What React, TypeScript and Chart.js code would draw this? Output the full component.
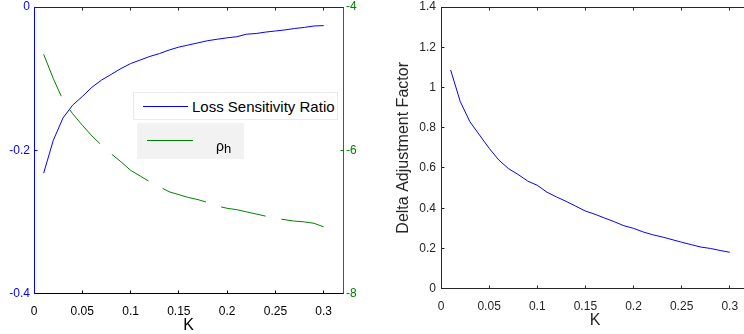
import React, { useEffect, useRef } from 'react';
import { Chart, registerables } from 'chart.js';

Chart.register(...registerables);

const kValues = [0.01, 0.02, 0.03, 0.04, 0.05, 0.06, 0.07, 0.08, 0.09, 0.1, 0.11, 0.12, 0.13, 0.14, 0.15, 0.16, 0.17, 0.18, 0.19, 0.2, 0.21, 0.22, 0.23, 0.24, 0.25, 0.26, 0.27, 0.28, 0.29, 0.3];
const lossSensitivityRatio = [-0.232, -0.186, -0.155, -0.137, -0.125, -0.112, -0.102, -0.094, -0.086, -0.079, -0.074, -0.069, -0.065, -0.06, -0.056, -0.053, -0.05, -0.047, -0.045, -0.043, -0.0415, -0.038, -0.037, -0.035, -0.0335, -0.032, -0.03, -0.0285, -0.0265, -0.026];
const rhoH = [-4.66, -5.0, -5.3, -5.49, -5.65, -5.8, -5.93, -6.05, -6.16, -6.28, -6.36, -6.44, -6.51, -6.58, -6.62, -6.66, -6.69, -6.73, -6.78, -6.81, -6.83, -6.86, -6.89, -6.92, -6.95, -6.97, -6.99, -7.0, -7.02, -7.07];
const deltaAdjustmentFactor = [1.087, 0.93, 0.83, 0.764, 0.698, 0.64, 0.597, 0.568, 0.535, 0.514, 0.48, 0.456, 0.434, 0.41, 0.386, 0.37, 0.351, 0.333, 0.313, 0.3, 0.282, 0.268, 0.257, 0.244, 0.231, 0.219, 0.207, 0.2, 0.19, 0.181];

const xTickValues = [0, 0.05, 0.1, 0.15, 0.2, 0.25, 0.3];
const lossTickValues = [-0.4, -0.2, 0];
const rhoTickValues = [-8, -6, -4];
const deltaTickValues = [0, 0.2, 0.4, 0.6, 0.8, 1, 1.2, 1.4];

const FONT = "'Liberation Sans', Arial, Helvetica, sans-serif";
const BLUE = '#0000ff';
const GREEN = '#008000';

const fmt = (v: number) => String(+v.toFixed(2));
const setTicks = (vals: number[]) => (scale: any) => {
  scale.ticks = vals.map((v) => ({ value: v }));
};
const fixSize = (prop: 'width' | 'height', size: number) => (s: any) => {
  s[prop] = size;
  s.paddingTop = 0;
  s.paddingBottom = 0;
  s.paddingLeft = 0;
  s.paddingRight = 0;
};

const crisp = (v: number) => Math.floor(v) + 0.5;

const axesPlugin = {
  id: 'matlabAxes',
  afterDatasetsDraw(chart: any, _args: any, opts: any) {
    const { ctx, chartArea } = chart;
    const left = crisp(chartArea.left);
    const right = crisp(chartArea.right);
    const top = crisp(chartArea.top);
    const bottom = crisp(chartArea.bottom);
    const tl = 3;
    ctx.save();
    ctx.lineWidth = 1;
    const line = (x1: number, y1: number, x2: number, y2: number, color: string) => {
      ctx.strokeStyle = color;
      ctx.beginPath();
      ctx.moveTo(x1, y1);
      ctx.lineTo(x2, y2);
      ctx.stroke();
    };
    const xs = chart.scales.x;
    for (const t of xs.ticks) {
      const px = crisp(xs.getPixelForValue(t.value));
      line(px, bottom, px, bottom - tl, opts.bottomColor);
      line(px, top, px, top + tl, opts.topColor);
    }
    for (const ax of opts.yAxes) {
      const s = chart.scales[ax.id];
      for (const t of s.ticks) {
        const py = crisp(s.getPixelForValue(t.value));
        if (ax.left) line(left, py, left + tl, py, ax.color);
        if (ax.right) line(right, py, right - tl, py, ax.color);
      }
    }
    line(left - 0.5, top, right + 0.5, top, opts.topColor);
    line(left - 0.5, bottom, right + 0.5, bottom, opts.bottomColor);
    line(left, top, left, bottom, opts.leftColor);
    line(right, top, right, bottom, opts.rightColor);
    ctx.restore();
  },
};

export default function App() {
  const leftRef = useRef<HTMLCanvasElement>(null);
  const rightRef = useRef<HTMLCanvasElement>(null);

  useEffect(() => {
    const lossPoints = kValues.map((k, i) => ({ x: k, y: lossSensitivityRatio[i] }));
    const rhoPoints = kValues.map((k, i) => ({ x: k, y: rhoH[i] }));
    const deltaPoints = kValues.map((k, i) => ({ x: k, y: deltaAdjustmentFactor[i] }));

    const left = new Chart(leftRef.current as HTMLCanvasElement, {
      type: 'line',
      data: {
        datasets: [
          {
            label: 'Loss Sensitivity Ratio',
            data: lossPoints,
            yAxisID: 'y',
            borderColor: BLUE,
            borderWidth: 1,
            pointRadius: 0,
            tension: 0,
          },
          {
            label: 'ρh',
            data: rhoPoints,
            yAxisID: 'y2',
            borderColor: GREEN,
            borderWidth: 1,
            borderDash: [45.5, 16],
            pointRadius: 0,
            tension: 0,
          },
        ],
      },
      options: {
        animation: false,
        responsive: false,
        devicePixelRatio: 1,
        layout: { padding: { top: 7, left: 0, right: 0, bottom: 0 } },
        plugins: {
          legend: { display: false },
          tooltip: { enabled: false },
          matlabAxes: {
            topColor: '#262626',
            bottomColor: '#000000',
            leftColor: BLUE,
            rightColor: '#1d6a62',
            yAxes: [
              { id: 'y', left: true, right: false, color: BLUE },
              { id: 'y2', left: false, right: true, color: GREEN },
            ],
          },
        } as any,
        scales: {
          x: {
            type: 'linear',
            min: 0,
            max: 0.32,
            afterBuildTicks: setTicks(xTickValues),
            afterFit: fixSize('height', 40.5),
            grid: { display: false, drawTicks: false },
            border: { display: false },
            ticks: { padding: 11, color: '#000000', font: { family: FONT, size: 12 }, callback: (v: any) => fmt(Number(v)), maxRotation: 0, autoSkip: false },
            title: { display: true, text: 'K', color: '#000000', font: { family: FONT, size: 16 }, padding: { top: 0, bottom: -1 } },
          },
          y: {
            type: 'linear',
            position: 'left',
            min: -0.4,
            max: 0,
            afterBuildTicks: setTicks(lossTickValues),
            afterFit: fixSize('width', 34),
            grid: { display: false, drawTicks: false },
            border: { display: false },
            ticks: { padding: 4, color: BLUE, font: { family: FONT, size: 12 }, callback: (v: any) => fmt(Number(v)) },
          },
          y2: {
            type: 'linear',
            position: 'right',
            min: -8,
            max: -4,
            afterBuildTicks: setTicks(rhoTickValues),
            afterFit: fixSize('width', 29),
            grid: { display: false, drawTicks: false },
            border: { display: false },
            ticks: { padding: 3, color: GREEN, font: { family: FONT, size: 12 }, callback: (v: any) => fmt(Number(v)) },
          },
        },
      },
      plugins: [axesPlugin],
    });

    const right = new Chart(rightRef.current as HTMLCanvasElement, {
      type: 'line',
      data: {
        datasets: [
          {
            label: 'Delta Adjustment Factor',
            data: deltaPoints,
            borderColor: BLUE,
            borderWidth: 1,
            pointRadius: 0,
            tension: 0,
          },
        ],
      },
      options: {
        animation: false,
        responsive: false,
        devicePixelRatio: 1,
        layout: { padding: { top: 7, left: 0, right: 13, bottom: 0 } },
        plugins: {
          legend: { display: false },
          tooltip: { enabled: false },
          matlabAxes: {
            topColor: '#262626',
            bottomColor: '#262626',
            leftColor: '#262626',
            rightColor: '#262626',
            yAxes: [{ id: 'y', left: true, right: true, color: '#262626' }],
          },
        } as any,
        scales: {
          x: {
            type: 'linear',
            min: 0,
            max: 0.32,
            afterBuildTicks: setTicks(xTickValues),
            afterFit: fixSize('height', 45.3),
            grid: { display: false, drawTicks: false },
            border: { display: false },
            ticks: { padding: 11, color: '#262626', font: { family: FONT, size: 12 }, callback: (v: any) => fmt(Number(v)), maxRotation: 0, autoSkip: false },
            title: { display: true, text: 'K', color: '#262626', font: { family: FONT, size: 16 }, padding: { top: 0, bottom: 4 } },
          },
          y: {
            type: 'linear',
            position: 'left',
            min: 0,
            max: 1.4,
            afterBuildTicks: setTicks(deltaTickValues),
            afterFit: fixSize('width', 69),
            grid: { display: false, drawTicks: false },
            border: { display: false },
            ticks: { padding: 5, color: '#262626', font: { family: FONT, size: 12 }, callback: (v: any) => fmt(Number(v)) },
            title: { display: true, text: 'Delta Adjustment Factor', color: '#262626', font: { family: FONT, size: 16 }, padding: { top: 22, bottom: 0 } },
          },
        },
      },
      plugins: [axesPlugin],
    });

    return () => {
      left.destroy();
      right.destroy();
    };
  }, []);

  return (
    <div style={{ position: 'fixed', left: 0, top: 0, width: 744, height: 334, overflow: 'hidden', background: '#ffffff' }}>
      <canvas ref={leftRef} width={372} height={334} style={{ position: 'absolute', left: 0, top: 0, width: 372, height: 334 }} />
      <canvas ref={rightRef} width={390} height={334} style={{ position: 'absolute', left: 372, top: 0, width: 390, height: 334 }} />
      <div style={{ position: 'absolute', left: 133, top: 92, width: 205, height: 28, boxSizing: 'border-box', background: '#ffffff', border: '1px solid #ebebeb' }}>
        <div style={{ position: 'absolute', left: 9, top: 13, width: 45, height: 0, borderTop: `1px solid ${BLUE}` }} />
        <span style={{ position: 'absolute', left: 58, top: 6, fontFamily: FONT, fontSize: 15, lineHeight: '15px', color: '#000', whiteSpace: 'nowrap' }}>Loss Sensitivity Ratio</span>
      </div>
      <div style={{ position: 'absolute', left: 137, top: 123, width: 107, height: 36, background: '#f2f2f2' }}>
        <div style={{ position: 'absolute', left: 10, top: 17, width: 46, height: 0, borderTop: `1px solid ${GREEN}` }} />
        <span style={{ position: 'absolute', left: 79, top: 16, fontFamily: FONT, fontSize: 14, lineHeight: '14px', color: '#000', whiteSpace: 'nowrap' }}>
          ρ<span style={{ position: 'relative', top: 2, fontSize: 13 }}>h</span>
        </span>
      </div>
    </div>
  );
}
